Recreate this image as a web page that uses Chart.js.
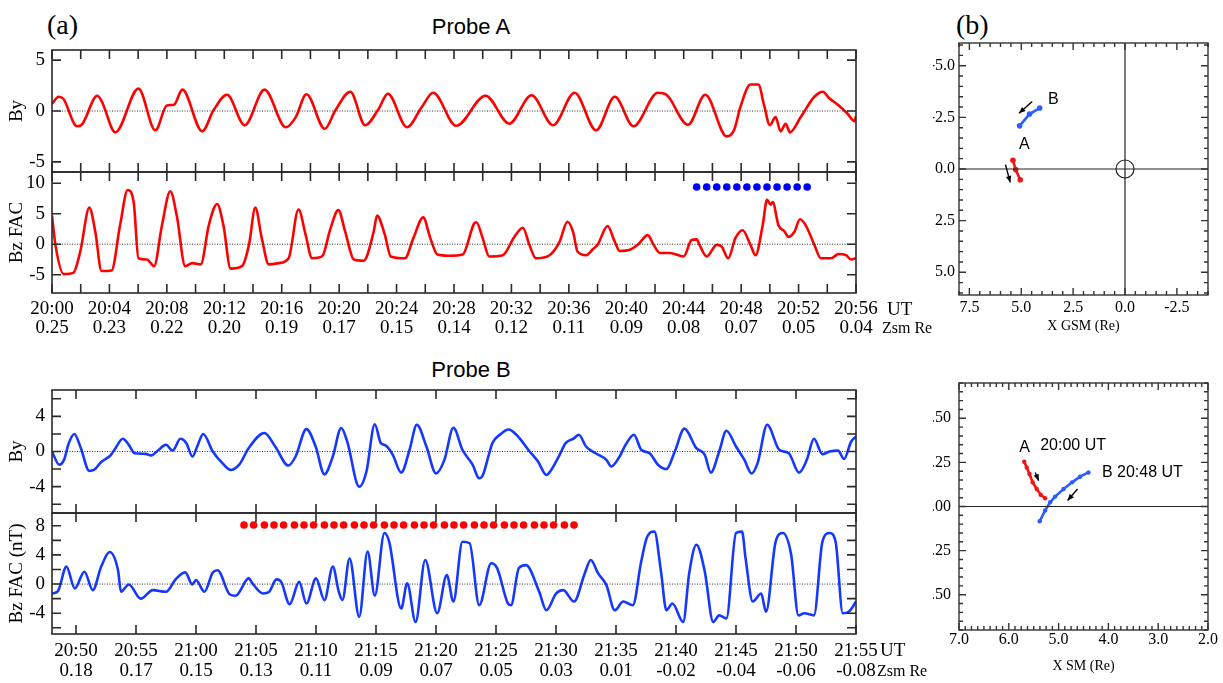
<!DOCTYPE html>
<html>
<head>
<meta charset="utf-8">
<script src="https://cdn.jsdelivr.net/npm/chart.js@4.4.1/dist/chart.umd.min.js"></script>
<style>
body { margin: 0; background: #fff; }
#fig { position: relative; width: 1223px; height: 683px; overflow: hidden; font-family: "Liberation Serif", "Times New Roman", serif; color: #000; }
#fig canvas { position: absolute; }
.t { position: absolute; white-space: nowrap; line-height: 1; }
.sans { font-family: "Liberation Sans", Arial, sans-serif; }
</style>
</head>
<body>
<div id="fig">
  <canvas id="aBy" width="900" height="126" style="left:0;top:48px"></canvas>
  <canvas id="aBz" width="900" height="168" style="left:0;top:170px"></canvas>
  <canvas id="bBy" width="900" height="127" style="left:0;top:388px"></canvas>
  <canvas id="bBz" width="900" height="169" style="left:0;top:511px"></canvas>
  <canvas id="gsm" width="289" height="296" style="left:933px;top:41px"></canvas>
  <canvas id="sm" width="289" height="296" style="left:933px;top:381px"></canvas>

  <div class="t" style="left:47px;top:11px;font-size:28px">(a)</div>
  <div class="t" style="left:956px;top:11px;font-size:28px">(b)</div>
  <div class="t sans" style="left:471px;top:16px;font-size:22px;transform:translateX(-50%)">Probe A</div>
  <div class="t sans" style="left:471px;top:359px;font-size:22px;transform:translateX(-50%)">Probe B</div>
  <div class="t" style="left:887px;top:299px;font-size:19px">UT</div>
  <div class="t" style="left:882px;top:320px;font-size:16px">Zsm Re</div>
  <div class="t" style="left:880px;top:640px;font-size:19px">UT</div>
  <div class="t" style="left:877px;top:663px;font-size:16px">Zsm Re</div>
</div>
<script>
// times are minutes after 20:00 UT, field values in nT

// Probe A
const aByT = [0, 0.46, 0.79, 1.74, 2.07, 3.16, 3.48, 4.41, 6.02, 7.2, 8.0, 8.49, 9.08, 10.46, 11.25, 12.19, 13.42, 14.8, 16.29, 16.98, 17.72, 19.0, 19.74, 20.78, 21.81, 22.76, 23.39, 24.73, 25.76, 26.55, 28.15, 30.2, 31.85, 33.4, 34.9, 36.4, 37.9, 39.2, 40.5, 42.2, 42.8, 44.3, 45.5, 47.0, 47.5, 47.95, 48.65, 49.2, 49.6, 50.0, 50.4, 50.75, 51.1, 51.4, 52.15, 53.1, 53.7, 54.1, 54.8, 55.4, 55.9, 56];
const aByV = [0.7, 1.4, 1.2, -1.5, -1.35, 1.5, 0.9, -2.1, 2.2, -1.9, 0.55, 0.62, 2.1, -2.0, 0.07, 1.6, -1.4, 2.1, -1.6, -0.6, 1.65, -1.75, 0.07, 1.9, -1.4, 0.23, 1.7, -1.6, 0.4, 1.8, -1.45, 1.5, -1.25, 1.55, -1.4, 1.8, -1.9, 1.4, -1.5, 1.8, 1.6, -1.35, 1.6, -2.5, -1.9, 0.4, 2.6, 2.6, 0.55, -1.4, -0.6, -2.0, -1.25, -2.1, -0.6, 1.4, 1.9, 1.3, 0.55, -0.25, -1.0, -0.5];
const aBzT = [0, 0.24, 0.81, 1.48, 1.97, 2.6, 3.02, 3.45, 4.15, 4.74, 5.27, 5.69, 6.02, 6.61, 7.11, 7.66, 8.24, 8.69, 9.28, 9.77, 10.36, 10.92, 11.5, 11.94, 12.44, 13.23, 13.72, 14.16, 14.61, 15.1, 15.79, 16.48, 17.17, 17.67, 18.11, 18.81, 19.4, 19.94, 20.43, 21.02, 21.71, 22.4, 22.64, 23.19, 23.59, 24.58, 25.17, 25.86, 26.35, 26.85, 27.65, 28.6, 29.4, 29.56, 30.0, 30.45, 31.4, 32.2, 32.8, 33.25, 33.7, 34.65, 35.35, 35.9, 36.3, 36.6, 37.2, 37.7, 38.0, 38.7, 39.2, 39.55, 40.25, 40.8, 41.5, 41.9, 42.35, 43.05, 44.0, 44.55, 44.9, 45.1, 45.6, 46.3, 46.65, 47.1, 47.6, 48.1, 48.65, 49.0, 49.5, 49.8, 50.05, 50.2, 50.6, 51.0, 51.3, 51.7, 52.1, 52.5, 53.1, 53.55, 54.25, 54.8, 55.3, 55.65, 56];
const aBzV = [4.7, -0.1, -4.9, -4.7, -1.2, 6.0, 2.0, -4.4, -4.3, 3.1, 8.9, 6.9, -2.3, -2.5, -3.6, 3.1, 8.7, 4.7, -3.6, -3.1, -3.3, 3.1, 6.6, 3.1, -4.0, -3.6, -0.1, 6.0, 1.0, -3.3, -3.1, -2.3, 5.7, 1.5, -2.3, -2.0, 2.6, 5.6, 2.0, -2.5, -2.7, 2.0, 4.7, 1.5, -2.0, -2.3, 1.0, 4.4, 1.0, -1.7, -1.9, -1.7, 3.4, 3.6, 1.0, -2.0, -1.8, 1.2, 2.7, -0.1, -2.3, -1.8, 0.4, 3.7, 2.0, -1.2, -1.8, -0.75, -0.1, 3.0, 0.4, -1.1, -0.9, -0.1, 1.5, -0.1, -1.45, -1.45, -2.0, 0.7, 0.8, -0.1, -2.0, -0.1, -0.4, -2.3, 1.0, 2.3, -0.1, -1.8, 3.1, 7.3, 6.5, 6.9, 3.1, 2.15, 1.2, 2.0, 4.1, 3.1, -0.1, -2.3, -2.3, -1.6, -1.8, -2.5, -2.3];
const aDotT = [44.9, 45.6, 46.3, 47.0, 47.7, 48.4, 49.1, 49.8, 50.5, 51.2, 51.9, 52.6];
const aDotLevel = 9.4;
const aTickMin = [0, 4, 8, 12, 16, 20, 24, 28, 32, 36, 40, 44, 48, 52, 56];
const aTickUT = ['20:00', '20:04', '20:08', '20:12', '20:16', '20:20', '20:24', '20:28', '20:32', '20:36', '20:40', '20:44', '20:48', '20:52', '20:56'];
const aTickZsm = ['0.25', '0.23', '0.22', '0.20', '0.19', '0.17', '0.15', '0.14', '0.12', '0.11', '0.09', '0.08', '0.07', '0.05', '0.04'];

// Probe B
const bByT = [48, 48.6, 49.0, 49.4, 49.86, 50.4, 51.1, 51.5, 52.1, 52.9, 53.3, 53.9, 54.4, 54.9, 55.8, 56.25, 56.9, 57.5, 58.05, 58.7, 59.2, 59.7, 60.1, 60.6, 61.4, 62.2, 62.9, 63.6, 64.4, 65.7, 66.6, 67.7, 68.3, 69.2, 69.97, 70.7, 71.4, 72.1, 72.6, 73.6, 74.2, 74.9, 75.4, 75.8, 76.4, 77.1, 77.8, 78.4, 79.2, 80.0, 80.7, 81.45, 82.2, 83.05, 83.6, 83.9, 84.4, 84.7, 85.4, 86.05, 86.7, 87.8, 88.5, 89.2, 89.6, 90.3, 90.8, 91.5, 91.9, 92.5, 93.3, 94.2, 94.6, 95.3, 95.8, 96.5, 97.1, 97.8, 98.5, 99.2, 99.9, 100.7, 101.7, 102.4, 102.9, 103.6, 104.2, 105.0, 105.7, 106.3, 106.8, 107.6, 108.6, 109.4, 110.25, 110.9, 111.5, 112.2, 112.8, 113.5, 114.0, 114.6, 115];
const bByV = [0, -1.5, -0.95, 0.95, 2.0, 0.4, -2.2, -2.1, -1.2, -0.4, 0.4, 1.45, 0.76, -0.2, -0.27, -0.45, 0.2, 0.76, 0.1, 1.45, 0.95, -0.57, 0.57, 2.0, 0, -1.33, -2.1, -1.5, 0.4, 2.1, 0.57, -1.6, -0.57, 2.55, 0.57, -2.6, -0.57, 2.67, 1.14, -4.0, -2.3, 3.1, 0.95, 0.69, -0.38, -2.4, 0.2, 3.05, 0.57, -2.5, -0.95, 2.7, 0.2, -1.5, -3.05, -2.7, -0.38, 0.95, 2.0, 2.5, 1.9, 0, -1.14, -2.67, -2.1, -0.38, 0.95, 1.5, 1.9, 0.57, -0.2, -0.95, -1.7, -0.57, 0.76, 1.9, 0.2, -0.2, -1.5, -2.0, 0, 2.6, 0.38, -0.38, -2.4, 0, 2.36, 0.57, -0.95, -2.5, -1.33, 3.05, 0.2, -0.2, -2.4, -0.95, 1.45, -0.3, 0, 0.1, -0.85, 1.14, 1.7];
const bBzT = [48, 48.5, 49.2, 49.9, 50.7, 51.4, 52.1, 52.8, 53.5, 53.75, 54.4, 55.4, 56.4, 57.5, 58.3, 59.1, 59.7, 60.0, 60.7, 61.4, 61.8, 62.8, 63.3, 64.4, 64.7, 65.6, 66.1, 66.7, 67.1, 67.8, 68.6, 69.2, 70.0, 70.7, 71.4, 71.9, 72.2, 72.8, 73.6, 74.3, 74.9, 75.7, 76.1, 77.1, 77.6, 78.3, 79.1, 80.1, 80.9, 81.45, 82.2, 82.8, 83.6, 84.6, 85.1, 86.0, 86.25, 86.9, 87.5, 88.6, 89.2, 90.0, 90.6, 91.5, 92.4, 92.9, 93.5, 94.2, 94.9, 95.6, 96.4, 97.1, 97.6, 98.2, 98.75, 99.2, 99.7, 100.6, 101.1, 101.7, 102.4, 103.1, 103.6, 104.2, 105.0, 105.5, 105.8, 106.4, 107.1, 107.5, 108.3, 108.9, 109.6, 110.2, 110.7, 111.5, 112.2, 112.8, 113.3, 113.9, 114.4, 115];
const bBzV = [-1.3, -0.97, 2.4, -0.6, 1.7, -0.83, 2.4, 4.4, 1.9, -1.06, -0.05, -2.0, -0.83, -1.06, 0.64, 1.6, -0.05, 0.55, -1.06, 1.6, 1.9, -1.4, -1.6, 0.78, 0.1, -1.3, -1.06, 0.64, 0.3, -2.76, 0.3, -2.67, 0.78, -2.2, 2.4, -1.06, -2.2, 3.5, -4.5, 4.46, -1.6, 7.0, 5.8, -3.36, 0.1, -5.2, 3.3, -4.0, 1.24, -2.4, 5.8, 5.6, -2.9, 2.85, 2.16, -2.67, -2.9, 2.16, 2.6, -1.06, -3.6, -1.3, -0.83, -2.4, 1.5, 3.3, 1.5, -0.14, -3.6, -2.4, -2.9, 3.1, 6.5, 7.2, 1.7, -3.6, -2.67, -5.2, 1.5, 5.4, 1.7, -5.2, -4.3, -4.7, 7.0, 7.2, 3.5, -2.4, -1.3, -3.8, 5.8, 7.0, 4.0, -4.3, -4.0, -4.3, 5.8, 7.0, 5.8, -4.0, -3.8, -2.4];
const bDotT = [64.0, 64.8, 65.7, 66.5, 67.3, 68.2, 69.0, 69.8, 70.7, 71.5, 72.3, 73.2, 74.0, 74.8, 75.7, 76.5, 77.3, 78.2, 79.0, 79.8, 80.7, 81.5, 82.3, 83.2, 84.0, 84.8, 85.7, 86.5, 87.3, 88.2, 89.0, 89.8, 90.7, 91.5];
const bDotLevel = 8.1;
const bTickMin = [50, 55, 60, 65, 70, 75, 80, 85, 90, 95, 100, 105, 110, 115];
const bTickUT = ['20:50', '20:55', '21:00', '21:05', '21:10', '21:15', '21:20', '21:25', '21:30', '21:35', '21:40', '21:45', '21:50', '21:55'];
const bTickZsm = ['0.18', '0.17', '0.15', '0.13', '0.11', '0.09', '0.07', '0.05', '0.03', '0.01', '-0.02', '-0.04', '-0.06', '-0.08'];

// (b) orbit tracks, Re
const gsmAX = [5.40, 5.27, 5.05];
const gsmAY = [-0.42, 0.03, 0.52];
const gsmBX = [5.08, 4.60, 4.11];
const gsmBY = [-2.09, -2.66, -2.95];
const gsmArrows = [[4.47, -3.27, 5.11, -2.70], [5.76, -0.21, 5.53, 0.65]];
const gsmLabels = [['B', 3.71, -3.35], ['A', 5.11, -1.17]];
const gsmTicksX = [7.5, 5, 2.5, 0, -2.5];
const gsmTicksY = [-5, -2.5, 0, 2.5, 5];

const smAX = [5.69, 5.64, 5.585, 5.52, 5.44, 5.36, 5.27];
const smAY = [0.254, 0.221, 0.184, 0.137, 0.099, 0.067, 0.047];
const smBX = [4.40, 4.57, 4.73, 4.90, 5.07, 5.17, 5.27, 5.38];
const smBY = [0.193, 0.169, 0.137, 0.099, 0.056, 0.024, -0.022, -0.084];
const smArrows = [[5.47, 0.193, 5.40, 0.146], [4.62, 0.099, 4.82, 0.034]];
const smLabels = [['A', 5.79, 0.333], ['20:00 UT', 5.37, 0.343], ['B 20:48 UT', 4.13, 0.193]];
const smTicksX = [7, 6, 5, 4, 3, 2];
const smTicksY = [-0.5, -0.25, 0, 0.25, 0.5];

const RED = '#ff0000', BLUE = '#1538ff';

Chart.defaults.font.family = '"Liberation Serif", "Times New Roman", serif';
Chart.defaults.color = '#000';

function pts(t, v) {
    return t.map(function(x, i){ return {x: x, y: v[i]}; });
}

function eachStep(scale, step, fn) {
    for (var n = Math.ceil(scale.min / step - 1e-6); n * step <= scale.max + 1e-6; n++) {
        fn(scale.getPixelForValue(n * step));
    }
}

// fixed axis sizes, and no extra room kept for labels at the ends
function fixY(w) {
    return function(s){ s.width = w; s.paddingTop = 0; s.paddingBottom = 0; };
}
function fixX(h) {
    return function(s){ s.height = h; s.paddingLeft = 0; s.paddingRight = 0; };
}

// box round the plot area, with tick marks pointing inward on all four sides
const frame = {
    id: 'frame',
    afterDatasetsDraw: function(chart, args, o){
        if (!o.xStep) return;
        var ctx = chart.ctx, a = chart.chartArea, sx = chart.scales.x, sy = chart.scales.y;
        ctx.save();
        ctx.strokeStyle = o.color;
        ctx.lineWidth = o.width;
        ctx.beginPath();
        [[o.xMinor, o.minorLen], [o.xStep, o.len]].forEach(function(s){
            if (!s[0]) return;
            eachStep(sx, s[0], function(px){
                ctx.moveTo(px, a.top); ctx.lineTo(px, a.top + s[1]);
                ctx.moveTo(px, a.bottom); ctx.lineTo(px, a.bottom - s[1]);
            });
        });
        [[o.yMinor, o.minorLen], [o.yStep, o.len]].forEach(function(s){
            if (!s[0]) return;
            eachStep(sy, s[0], function(py){
                ctx.moveTo(a.left, py); ctx.lineTo(a.left + s[1], py);
                ctx.moveTo(a.right, py); ctx.lineTo(a.right - s[1], py);
            });
        });
        ctx.stroke();
        ctx.strokeRect(a.left, a.top, a.right - a.left, a.bottom - a.top);
        ctx.restore();
    }
};

// arrows and letters of the orbit panels, placed in data coordinates
const notes = {
    id: 'notes',
    afterDatasetsDraw: function(chart, args, o){
        if (!o.arrows) return;
        var ctx = chart.ctx, sx = chart.scales.x, sy = chart.scales.y;
        ctx.save();
        ctx.strokeStyle = '#000';
        ctx.fillStyle = '#000';
        ctx.lineWidth = 1.4;
        o.arrows.forEach(function(r){
            var x1 = sx.getPixelForValue(r[0]), y1 = sy.getPixelForValue(r[1]);
            var x2 = sx.getPixelForValue(r[2]), y2 = sy.getPixelForValue(r[3]);
            var ang = Math.atan2(y2 - y1, x2 - x1), h = 7;
            ctx.beginPath();
            ctx.moveTo(x1, y1); ctx.lineTo(x2, y2);
            ctx.stroke();
            ctx.beginPath();
            ctx.moveTo(x2, y2);
            ctx.lineTo(x2 - h * Math.cos(ang - 0.4), y2 - h * Math.sin(ang - 0.4));
            ctx.lineTo(x2 - h * Math.cos(ang + 0.4), y2 - h * Math.sin(ang + 0.4));
            ctx.closePath();
            ctx.fill();
        });
        ctx.font = '16px "Liberation Sans", Arial, sans-serif';
        ctx.textAlign = 'left';
        ctx.textBaseline = 'middle';
        o.labels.forEach(function(l){
            ctx.fillText(l[0], sx.getPixelForValue(l[1]), sy.getPixelForValue(l[2]));
        });
        ctx.restore();
    }
};

Chart.register(frame, notes);

// one field component against time
function fieldPanel(id, o) {
    var sets = [
        {data: [{x: o.xmin, y: 0}, {x: o.xmax, y: 0}], borderColor: '#333', borderWidth: 1, borderDash: [1, 1.5], pointRadius: 0},
        {data: pts(o.t, o.v), borderColor: o.color, borderWidth: 2.6, pointRadius: 0, cubicInterpolationMode: 'monotone'}
    ];
    if (o.dots) {
        sets.push({data: o.dots.map(function(t){ return {x: t, y: o.dotLevel}; }), showLine: false,
            pointRadius: 3.8, pointBorderWidth: 0, pointBackgroundColor: o.dotColor});
    }
    var x = {type: 'linear', min: o.xmin, max: o.xmax, display: false, grid: {display: false}, border: {display: false}};
    if (o.tickAt) {
        x.display = true;
        x.afterBuildTicks = function(s){ s.ticks = o.tickAt.map(function(v){ return {value: v}; }); };
        x.afterFit = fixX(o.xH);
        x.grid = {display: false, drawTicks: false};
        x.ticks = {autoSkip: false, maxRotation: 0, padding: o.xPad, font: {size: 19, lineHeight: o.lh},
            callback: function(v, i){ return [o.ut[i], o.zsm[i]]; }};
    }
    return new Chart(document.getElementById(id), {
        type: 'line',
        data: {datasets: sets},
        options: {
            responsive: false, animation: false, devicePixelRatio: 1, events: [],
            layout: {autoPadding: false, padding: {top: 2, bottom: o.tickAt ? 0 : 2, right: 44, left: 0}},
            plugins: {legend: {display: false}, tooltip: {enabled: false},
                frame: {xStep: o.xStep, yStep: o.yStep, len: 9, color: '#2a2a2a', width: 1.6}},
            scales: {
                x: x,
                y: {
                    min: o.ymin, max: o.ymax,
                    afterBuildTicks: function(s){ s.ticks = o.yTicks.map(function(v){ return {value: v}; }); },
                    afterFit: fixY(52),
                    grid: {display: false, drawTicks: false}, border: {display: false},
                    ticks: {padding: 7, font: {size: 19}},
                    title: {display: true, text: o.yTitle, font: {size: 19}, padding: {top: 6, bottom: 0}}
                }
            }
        }
    });
}

fieldPanel('aBy', {t: aByT, v: aByV, color: RED, xmin: 0, xmax: 56, ymin: -6, ymax: 6,
    yTicks: [-5, 0, 5], yTitle: 'By', xStep: 2, yStep: 5});
fieldPanel('aBz', {t: aBzT, v: aBzV, color: RED, xmin: 0, xmax: 56, ymin: -8, ymax: 11.85,
    yTicks: [-5, 0, 5, 10], yTitle: 'Bz FAC', xStep: 2, yStep: 5,
    dots: aDotT, dotLevel: aDotLevel, dotColor: '#0000ff',
    tickAt: aTickMin, ut: aTickUT, zsm: aTickZsm, xH: 45, xPad: 7, lh: 0.97});
fieldPanel('bBy', {t: bByT, v: bByV, color: BLUE, xmin: 48, xmax: 115, ymin: -7, ymax: 7,
    yTicks: [-4, 0, 4], yTitle: 'By', xStep: 5, yStep: 2});
fieldPanel('bBz', {t: bBzT, v: bBzV, color: BLUE, xmin: 48, xmax: 115, ymin: -6.85, ymax: 9.75,
    yTicks: [-4, 0, 4, 8], yTitle: 'Bz FAC (nT)', xStep: 5, yStep: 2,
    dots: bDotT, dotLevel: bDotLevel, dotColor: '#ff0000',
    tickAt: bTickMin, ut: bTickUT, zsm: bTickZsm, xH: 46, xPad: 6.5, lh: 1.08});

// spacecraft track panels
function orbitPanel(id, o) {
    var sets = o.guides.map(function(g){
        return {data: g, showLine: true, borderColor: '#222', borderWidth: 1.2, pointRadius: 0};
    });
    if (o.earth) {
        sets.push({data: [{x: 0, y: 0}], pointRadius: 9, pointBorderWidth: 1.2, pointBorderColor: '#222',
            pointBackgroundColor: 'rgba(0,0,0,0)'});
    }
    sets.push({data: pts(o.ax, o.ay), showLine: true, borderColor: '#f21414', borderWidth: 2.6,
        pointRadius: o.r, pointBorderWidth: 0, pointBackgroundColor: '#f21414'});
    sets.push({data: pts(o.bx, o.by), showLine: true, borderColor: '#2a5cff', borderWidth: 2.6,
        pointRadius: o.r, pointBorderWidth: 0, pointBackgroundColor: '#2a5cff'});
    return new Chart(document.getElementById(id), {
        type: 'scatter',
        data: {datasets: sets},
        options: {
            responsive: false, animation: false, devicePixelRatio: 1, events: [],
            layout: {autoPadding: false, padding: {top: 2, bottom: 0, right: 14, left: 0}},
            plugins: {legend: {display: false}, tooltip: {enabled: false},
                frame: {xStep: o.xStep, yStep: o.yStep, xMinor: o.xMinor, yMinor: o.yMinor,
                    len: 7, minorLen: 4, color: '#333', width: 1.4},
                notes: {arrows: o.arrows, labels: o.labels}},
            scales: {
                x: {
                    type: 'linear', reverse: true, min: o.xmin, max: o.xmax,
                    afterBuildTicks: function(s){ s.ticks = o.xTicks.map(function(v){ return {value: v}; }); },
                    afterFit: fixX(o.xH),
                    grid: {display: false, drawTicks: false}, border: {display: false},
                    ticks: {autoSkip: false, maxRotation: 0, padding: o.xPad, font: {size: 16},
                        callback: function(v){ return v.toFixed(o.xDec); }},
                    title: {display: true, text: o.xTitle, font: {size: 14}, padding: {top: 0, bottom: 2}}
                },
                y: {
                    type: 'linear', reverse: o.yRev, min: o.ymin, max: o.ymax,
                    afterBuildTicks: function(s){ s.ticks = o.yTicks.map(function(v){ return {value: v}; }); },
                    afterFit: fixY(26),
                    grid: {display: false, drawTicks: false}, border: {display: false},
                    ticks: {padding: o.yPad, font: {size: 16},
                        callback: function(v){ return v.toFixed(o.yDec); }}
                }
            }
        }
    });
}

orbitPanel('gsm', {
    ax: gsmAX, ay: gsmAY, bx: gsmBX, by: gsmBY, r: 2.8,
    xmin: -4, xmax: 8, ymin: -6.1, ymax: 6.1, yRev: true,
    guides: [[{x: -4, y: 0}, {x: 8, y: 0}], [{x: 0, y: -6.1}, {x: 0, y: 6.1}]], earth: true,
    xTicks: gsmTicksX, yTicks: gsmTicksY, xDec: 1, yDec: 1,
    xStep: 2.5, yStep: 2.5, xMinor: 0.5, yMinor: 0.5,
    arrows: gsmArrows, labels: gsmLabels,
    xTitle: 'X GSM (Re)', xH: 42, xPad: 3, yPad: 4
});
orbitPanel('sm', {
    ax: smAX, ay: smAY, bx: smBX, by: smBY, r: 2.2,
    xmin: 2, xmax: 7, ymin: -0.7, ymax: 0.7, yRev: false,
    guides: [[{x: 2, y: 0}, {x: 7, y: 0}]], earth: false,
    xTicks: smTicksX, yTicks: smTicksY, xDec: 1, yDec: 2,
    xStep: 1, yStep: 0.25, xMinor: 0.125, yMinor: 0.05,
    arrows: smArrows, labels: smLabels,
    xTitle: 'X SM (Re)', xH: 47, xPad: 0, yPad: 8
});
</script>
</body>
</html>
